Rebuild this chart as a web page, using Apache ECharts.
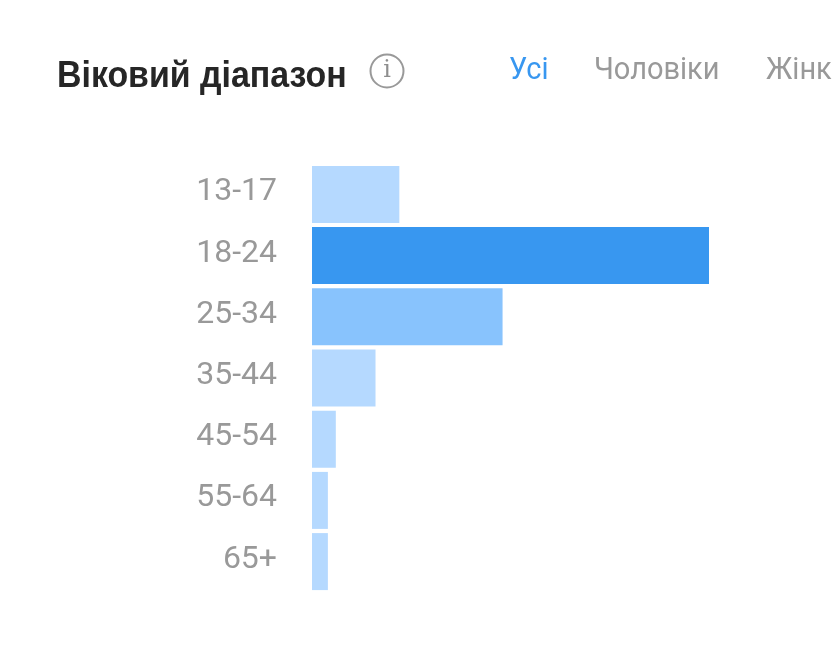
<!DOCTYPE html>
<html>
<head>
<meta charset="utf-8">
<style>
  html, body { margin: 0; padding: 0; background: #fff; overflow: hidden; }
  #chart { width: 836px; height: 653px; }
</style>
<script src="https://cdn.jsdelivr.net/npm/echarts@6/dist/echarts.min.js"></script>
</head>
<body>
<div id="chart"></div>
<script>
// Audience share by age range, percent
const ageRanges = ['13-17', '18-24', '25-34', '35-44', '45-54', '55-64', '65+'];
const shares = [11, 50, 24, 8, 3, 2, 2];
const barColors = ['#b5d9ff', '#3897f0', '#88c3fd', '#b5d9ff', '#b5d9ff', '#b5d9ff', '#b5d9ff'];
const heading = 'Віковий діапазон';
const tabs = ['Усі', 'Чоловіки', 'Жінк'];

const chart = echarts.init(document.getElementById('chart'), null, { renderer: 'canvas' });

// Header labels are slightly condensed, so each one carries a vertical stretch
function headerText(text, x, y, fontSize, fill, fontWeight, scaleY) {
  return {
    type: 'text', x: x, y: y, scaleY: scaleY,
    style: { text: text, fontFamily: fontWeight ? 'Liberation Sans' : 'Roboto', fontWeight: fontWeight || 'normal',
             fontSize: fontSize, fill: fill, verticalAlign: 'middle' }
  };
}

chart.setOption({
  animation: false,
  backgroundColor: '#ffffff',
  grid: { left: 312, top: 163.8, width: 397, height: 428.4 },
  xAxis: { type: 'value', min: 0, max: 50, show: false },
  yAxis: {
    type: 'category',
    inverse: true,
    data: ageRanges,
    axisLine: { show: false },
    axisTick: { show: false },
    axisLabel: {
      margin: 35,
      fontFamily: 'Roboto',
      fontSize: 32,
      color: '#999999',
      verticalAlign: 'bottom',
      lineHeight: 4
    }
  },
  series: [{
    type: 'bar',
    barWidth: 57,
    data: shares.map((v, i) => ({ value: v, itemStyle: { color: barColors[i] } }))
  }],
  graphic: [
    headerText(heading, 57, 77, 33.9, '#262626', 'bold', 1.1),
    { type: 'circle', shape: { cx: 387, cy: 71, r: 16.5 }, style: { fill: 'none', stroke: '#999999', lineWidth: 2 } },
    { type: 'text', x: 387, y: 71, style: { text: 'i', fontFamily: 'DejaVu Serif', fontSize: 24, fill: '#8e8e8e', align: 'center', verticalAlign: 'middle' } },
    headerText(tabs[0], 509, 71, 29, '#3897f0', null, 1.08),
    headerText(tabs[1], 594, 71, 29, '#999999', null, 1.08),
    headerText(tabs[2], 766, 71, 29, '#999999', null, 1.08)
  ]
});
</script>
</body>
</html>
